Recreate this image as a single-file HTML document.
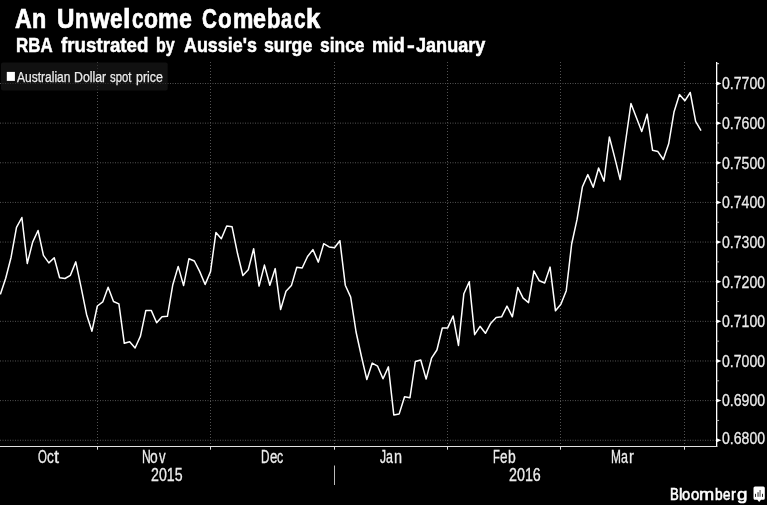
<!DOCTYPE html>
<html><head><meta charset="utf-8"><title>An Unwelcome Comeback</title>
<style>
html,body{margin:0;padding:0;background:#000;}
body{width:768px;height:505px;position:relative;overflow:hidden;font-family:"Liberation Sans",sans-serif;}
.t{position:absolute;white-space:nowrap;line-height:1;transform-origin:0 0;}
#L{position:absolute;left:0;top:0;width:768px;height:505px;will-change:transform;filter:blur(0.35px);}
</style></head><body>
<svg width="768" height="505" viewBox="0 0 768 505" style="position:absolute;left:0;top:0;filter:blur(0.3px)">
<line x1="0" y1="83.50" x2="716.65" y2="83.50" stroke="#525252" stroke-width="1" stroke-dasharray="1 1.5"/>
<line x1="0" y1="123.14" x2="716.65" y2="123.14" stroke="#525252" stroke-width="1" stroke-dasharray="1 1.5"/>
<line x1="0" y1="162.78" x2="716.65" y2="162.78" stroke="#525252" stroke-width="1" stroke-dasharray="1 1.5"/>
<line x1="0" y1="202.42" x2="716.65" y2="202.42" stroke="#525252" stroke-width="1" stroke-dasharray="1 1.5"/>
<line x1="0" y1="242.06" x2="716.65" y2="242.06" stroke="#525252" stroke-width="1" stroke-dasharray="1 1.5"/>
<line x1="0" y1="281.70" x2="716.65" y2="281.70" stroke="#525252" stroke-width="1" stroke-dasharray="1 1.5"/>
<line x1="0" y1="321.34" x2="716.65" y2="321.34" stroke="#525252" stroke-width="1" stroke-dasharray="1 1.5"/>
<line x1="0" y1="360.98" x2="716.65" y2="360.98" stroke="#525252" stroke-width="1" stroke-dasharray="1 1.5"/>
<line x1="0" y1="400.62" x2="716.65" y2="400.62" stroke="#525252" stroke-width="1" stroke-dasharray="1 1.5"/>
<line x1="0" y1="440.26" x2="716.65" y2="440.26" stroke="#525252" stroke-width="1" stroke-dasharray="1 1.5"/>
<line x1="97.5" y1="62.0" x2="97.5" y2="446.5" stroke="#525252" stroke-width="1" stroke-dasharray="1 2"/>
<line x1="210.5" y1="62.0" x2="210.5" y2="446.5" stroke="#525252" stroke-width="1" stroke-dasharray="1 2"/>
<line x1="334.5" y1="62.0" x2="334.5" y2="446.5" stroke="#525252" stroke-width="1" stroke-dasharray="1 2"/>
<line x1="447.5" y1="62.0" x2="447.5" y2="446.5" stroke="#525252" stroke-width="1" stroke-dasharray="1 2"/>
<line x1="560.5" y1="62.0" x2="560.5" y2="446.5" stroke="#525252" stroke-width="1" stroke-dasharray="1 2"/>
<line x1="684.5" y1="62.0" x2="684.5" y2="446.5" stroke="#525252" stroke-width="1" stroke-dasharray="1 2"/>
<rect x="1" y="62.5" width="166.7" height="28" rx="2" fill="#1d1d1d" fill-opacity="0.6"/>
<rect x="6.8" y="71.9" width="8.1" height="9" fill="#fff"/>
<line x1="716.65" y1="62.0" x2="716.65" y2="447.1" stroke="#fff" stroke-width="1.3"/>
<line x1="0" y1="446.5" x2="717.25" y2="446.5" stroke="#e0e0e0" stroke-width="1.2"/>
<path d="M716.65 81.60 L721.45 83.50 L716.65 85.40Z" fill="#fff"/>
<path d="M716.65 121.24 L721.45 123.14 L716.65 125.04Z" fill="#fff"/>
<path d="M716.65 160.88 L721.45 162.78 L716.65 164.68Z" fill="#fff"/>
<path d="M716.65 200.52 L721.45 202.42 L716.65 204.32Z" fill="#fff"/>
<path d="M716.65 240.16 L721.45 242.06 L716.65 243.96Z" fill="#fff"/>
<path d="M716.65 279.80 L721.45 281.70 L716.65 283.60Z" fill="#fff"/>
<path d="M716.65 319.44 L721.45 321.34 L716.65 323.24Z" fill="#fff"/>
<path d="M716.65 359.08 L721.45 360.98 L716.65 362.88Z" fill="#fff"/>
<path d="M716.65 398.72 L721.45 400.62 L716.65 402.52Z" fill="#fff"/>
<path d="M716.65 438.36 L721.45 440.26 L716.65 442.16Z" fill="#fff"/>
<line x1="716.65" y1="63.68" x2="719.05" y2="63.68" stroke="#ddd" stroke-width="1"/>
<line x1="716.65" y1="103.32" x2="719.05" y2="103.32" stroke="#b4b4b4" stroke-width="1"/>
<line x1="716.65" y1="142.96" x2="719.05" y2="142.96" stroke="#b4b4b4" stroke-width="1"/>
<line x1="716.65" y1="182.60" x2="719.05" y2="182.60" stroke="#b4b4b4" stroke-width="1"/>
<line x1="716.65" y1="222.24" x2="719.05" y2="222.24" stroke="#b4b4b4" stroke-width="1"/>
<line x1="716.65" y1="261.88" x2="719.05" y2="261.88" stroke="#b4b4b4" stroke-width="1"/>
<line x1="716.65" y1="301.52" x2="719.05" y2="301.52" stroke="#b4b4b4" stroke-width="1"/>
<line x1="716.65" y1="341.16" x2="719.05" y2="341.16" stroke="#b4b4b4" stroke-width="1"/>
<line x1="716.65" y1="380.80" x2="719.05" y2="380.80" stroke="#b4b4b4" stroke-width="1"/>
<line x1="716.65" y1="420.44" x2="719.05" y2="420.44" stroke="#b4b4b4" stroke-width="1"/>
<line x1="97.5" y1="446.5" x2="97.5" y2="449.70" stroke="#ddd" stroke-width="1"/>
<line x1="210.5" y1="446.5" x2="210.5" y2="449.70" stroke="#ddd" stroke-width="1"/>
<line x1="334.5" y1="446.5" x2="334.5" y2="449.70" stroke="#ddd" stroke-width="1"/>
<line x1="447.5" y1="446.5" x2="447.5" y2="449.70" stroke="#ddd" stroke-width="1"/>
<line x1="560.5" y1="446.5" x2="560.5" y2="449.70" stroke="#ddd" stroke-width="1"/>
<line x1="684.5" y1="446.5" x2="684.5" y2="449.70" stroke="#ddd" stroke-width="1"/>
<line x1="334.5" y1="465.5" x2="334.5" y2="485" stroke="#bbb" stroke-width="1"/>
<polyline points="0.32,294.40 5.71,278.20 11.10,257.20 16.49,227.30 21.88,217.50 27.27,263.50 32.66,242.10 38.05,230.50 43.44,255.40 48.83,262.90 54.22,257.80 59.61,277.70 65.00,278.50 70.39,275.30 75.78,261.90 81.17,287.60 86.56,314.40 91.95,331.20 97.34,306.00 102.73,301.90 108.12,287.20 113.51,301.50 118.90,303.90 124.29,343.30 129.68,341.80 135.07,348.00 140.46,336.10 145.85,310.40 151.24,310.40 156.63,322.70 162.02,316.70 167.41,316.30 172.80,284.70 178.19,266.40 183.58,285.60 188.97,258.70 194.36,261.00 199.75,271.60 205.14,284.50 210.53,271.60 215.92,232.50 221.31,238.70 226.70,226.00 232.09,226.80 237.48,253.30 242.87,275.50 248.26,269.80 253.65,248.70 259.04,286.10 264.43,265.10 269.82,285.20 275.21,268.60 280.60,309.60 285.99,291.30 291.38,285.60 296.77,267.20 302.16,268.00 307.55,256.50 312.94,249.60 318.33,262.10 323.72,243.70 329.11,246.90 334.50,247.80 339.89,240.70 345.28,285.20 350.67,297.10 356.06,332.00 361.45,356.50 366.84,379.60 372.23,363.10 377.62,366.20 383.01,378.80 388.40,366.90 393.79,414.90 399.18,413.90 404.57,396.70 409.96,397.70 415.35,361.50 420.74,360.00 426.13,379.10 431.52,358.20 436.91,350.00 442.30,328.00 447.69,327.90 453.08,316.00 458.47,345.40 463.86,293.70 469.25,281.80 474.64,334.70 480.03,326.30 485.42,333.30 490.81,323.20 496.20,317.40 501.59,316.80 506.98,306.10 512.37,316.80 517.76,287.40 523.15,298.10 528.54,302.60 533.93,271.00 539.32,280.80 544.71,283.00 550.10,267.10 555.49,310.80 560.88,304.20 566.27,290.70 571.66,244.00 577.05,219.40 582.44,186.70 587.83,174.60 593.22,187.20 598.61,168.00 604.00,181.20 609.39,136.90 614.78,157.90 620.17,179.60 625.56,141.50 630.95,103.60 636.34,117.60 641.73,131.50 647.12,114.10 652.51,150.20 657.90,151.60 663.29,159.50 668.68,143.80 674.07,111.70 679.46,94.60 684.85,100.80 690.24,92.50 695.63,121.30 701.02,130.60" fill="none" stroke="#fff" stroke-width="1.5" stroke-linejoin="round" stroke-linecap="butt"/>
<path d="M755 486.5 h8.3 a1.5 1.5 0 0 1 1.5 1.5 v10.2 a1.5 1.5 0 0 1 -1.5 1.5 h-2.3 l-1.85 2.4 l-1.85 -2.4 h-2.3 a1.5 1.5 0 0 1 -1.5 -1.5 v-10.2 a1.5 1.5 0 0 1 1.5 -1.5z" fill="#fff"/>
<rect x="755" y="493.8" width="0.9" height="3.1" fill="#111"/>
<rect x="757.1" y="492.2" width="1.9" height="4.6" fill="#8a8a8a"/>
<rect x="759.2" y="490" width="1.8" height="6.8" fill="#999"/>
<rect x="762.1" y="493.8" width="0.9" height="3.1" fill="#111"/>
</svg>
<div style="position:absolute;left:766.9px;top:0;width:1.1px;height:505px;background:#fff"></div>
<div id="L">
<div class="t" style="left:15.12px;top:4.62px;font-size:27.5px;font-weight:bold;color:#fff;-webkit-text-stroke:0.7px #fff;transform:scaleX(0.8418);">A</div>
<div class="t" style="left:32.38px;top:4.62px;font-size:27.5px;font-weight:bold;color:#fff;-webkit-text-stroke:0.7px #fff;transform:scaleX(0.8477);">n</div>
<div class="t" style="left:56.66px;top:4.62px;font-size:27.5px;font-weight:bold;color:#fff;-webkit-text-stroke:0.7px #fff;transform:scaleX(0.8779);">U</div>
<div class="t" style="left:75.24px;top:4.62px;font-size:27.5px;font-weight:bold;color:#fff;-webkit-text-stroke:0.7px #fff;transform:scaleX(0.8050);">n</div>
<div class="t" style="left:89.52px;top:4.62px;font-size:27.5px;font-weight:bold;color:#fff;-webkit-text-stroke:0.7px #fff;transform:scaleX(0.9165);">w</div>
<div class="t" style="left:109.98px;top:4.62px;font-size:27.5px;font-weight:bold;color:#fff;-webkit-text-stroke:0.7px #fff;transform:scaleX(0.8201);">e</div>
<div class="t" style="left:123.17px;top:4.62px;font-size:27.5px;font-weight:bold;color:#fff;-webkit-text-stroke:0.7px #fff;transform:scaleX(0.9745);">l</div>
<div class="t" style="left:131.84px;top:4.62px;font-size:27.5px;font-weight:bold;color:#fff;-webkit-text-stroke:0.7px #fff;transform:scaleX(0.7480);">c</div>
<div class="t" style="left:143.58px;top:4.62px;font-size:27.5px;font-weight:bold;color:#fff;-webkit-text-stroke:0.7px #fff;transform:scaleX(0.8314);">o</div>
<div class="t" style="left:157.99px;top:4.62px;font-size:27.5px;font-weight:bold;color:#fff;-webkit-text-stroke:0.7px #fff;transform:scaleX(0.8426);">m</div>
<div class="t" style="left:178.67px;top:4.62px;font-size:27.5px;font-weight:bold;color:#fff;-webkit-text-stroke:0.7px #fff;transform:scaleX(0.8417);">e</div>
<div class="t" style="left:202.44px;top:4.62px;font-size:27.5px;font-weight:bold;color:#fff;-webkit-text-stroke:0.7px #fff;transform:scaleX(0.7482);">C</div>
<div class="t" style="left:218.49px;top:4.62px;font-size:27.5px;font-weight:bold;color:#fff;-webkit-text-stroke:0.7px #fff;transform:scaleX(0.8118);">o</div>
<div class="t" style="left:232.60px;top:4.62px;font-size:27.5px;font-weight:bold;color:#fff;-webkit-text-stroke:0.7px #fff;transform:scaleX(0.8333);">m</div>
<div class="t" style="left:252.96px;top:4.62px;font-size:27.5px;font-weight:bold;color:#fff;-webkit-text-stroke:0.7px #fff;transform:scaleX(0.8489);">e</div>
<div class="t" style="left:266.75px;top:4.62px;font-size:27.5px;font-weight:bold;color:#fff;-webkit-text-stroke:0.7px #fff;transform:scaleX(0.8021);">b</div>
<div class="t" style="left:281.35px;top:4.62px;font-size:27.5px;font-weight:bold;color:#fff;-webkit-text-stroke:0.7px #fff;transform:scaleX(0.7332);">a</div>
<div class="t" style="left:294.43px;top:4.62px;font-size:27.5px;font-weight:bold;color:#fff;-webkit-text-stroke:0.7px #fff;transform:scaleX(0.7551);">c</div>
<div class="t" style="left:305.93px;top:4.62px;font-size:27.5px;font-weight:bold;color:#fff;-webkit-text-stroke:0.7px #fff;transform:scaleX(0.9332);">k</div>
<div class="t" style="left:15.81px;top:34.90px;font-size:20.2px;font-weight:bold;color:#fff;-webkit-text-stroke:0.5px #fff;transform:scaleX(0.8370);">RBA</div>
<div class="t" style="left:60.75px;top:34.90px;font-size:20.2px;font-weight:bold;color:#fff;-webkit-text-stroke:0.5px #fff;transform:scaleX(0.9279);">frustrated</div>
<div class="t" style="left:156.15px;top:34.90px;font-size:20.2px;font-weight:bold;color:#fff;-webkit-text-stroke:0.5px #fff;transform:scaleX(0.7958);">by</div>
<div class="t" style="left:183.97px;top:34.90px;font-size:20.2px;font-weight:bold;color:#fff;-webkit-text-stroke:0.5px #fff;transform:scaleX(0.8857);">Aussie's</div>
<div class="t" style="left:264.30px;top:34.90px;font-size:20.2px;font-weight:bold;color:#fff;-webkit-text-stroke:0.5px #fff;transform:scaleX(0.8791);">surge</div>
<div class="t" style="left:320.41px;top:34.90px;font-size:20.2px;font-weight:bold;color:#fff;-webkit-text-stroke:0.5px #fff;transform:scaleX(0.8620);">since</div>
<div class="t" style="left:372.33px;top:34.90px;font-size:20.2px;font-weight:bold;color:#fff;-webkit-text-stroke:0.5px #fff;transform:scaleX(0.9161);">mid</div>
<div class="t" style="left:406.56px;top:34.90px;font-size:20.2px;font-weight:bold;color:#fff;-webkit-text-stroke:0.5px #fff;transform:scaleX(1.1502);">-</div>
<div class="t" style="left:415.75px;top:34.90px;font-size:20.2px;font-weight:bold;color:#fff;-webkit-text-stroke:0.5px #fff;transform:scaleX(0.8948);">January</div>
<div class="t" style="left:16.95px;top:70.15px;font-size:14px;color:#ececec;-webkit-text-stroke:0.25px #ececec;transform:scaleX(0.8585);">Australian</div>
<div class="t" style="left:73.72px;top:70.15px;font-size:14px;color:#ececec;-webkit-text-stroke:0.25px #ececec;transform:scaleX(0.8799);">Dollar</div>
<div class="t" style="left:109.86px;top:70.15px;font-size:14px;color:#ececec;-webkit-text-stroke:0.25px #ececec;transform:scaleX(0.8069);">spot</div>
<div class="t" style="left:135.70px;top:70.15px;font-size:14px;color:#ececec;-webkit-text-stroke:0.25px #ececec;transform:scaleX(0.8890);">price</div>
<div class="t" style="left:722.16px;top:75.37px;font-size:17.4px;color:#ececec;-webkit-text-stroke:0.3px #ececec;transform:scaleX(0.8092);">0.7700</div>
<div class="t" style="left:722.16px;top:115.01px;font-size:17.4px;color:#ececec;-webkit-text-stroke:0.3px #ececec;transform:scaleX(0.8092);">0.7600</div>
<div class="t" style="left:722.16px;top:154.65px;font-size:17.4px;color:#ececec;-webkit-text-stroke:0.3px #ececec;transform:scaleX(0.8092);">0.7500</div>
<div class="t" style="left:722.16px;top:194.29px;font-size:17.4px;color:#ececec;-webkit-text-stroke:0.3px #ececec;transform:scaleX(0.8092);">0.7400</div>
<div class="t" style="left:722.16px;top:233.93px;font-size:17.4px;color:#ececec;-webkit-text-stroke:0.3px #ececec;transform:scaleX(0.8092);">0.7300</div>
<div class="t" style="left:722.16px;top:273.57px;font-size:17.4px;color:#ececec;-webkit-text-stroke:0.3px #ececec;transform:scaleX(0.8092);">0.7200</div>
<div class="t" style="left:722.16px;top:313.21px;font-size:17.4px;color:#ececec;-webkit-text-stroke:0.3px #ececec;transform:scaleX(0.8092);">0.7100</div>
<div class="t" style="left:722.16px;top:352.85px;font-size:17.4px;color:#ececec;-webkit-text-stroke:0.3px #ececec;transform:scaleX(0.8092);">0.7000</div>
<div class="t" style="left:722.16px;top:392.49px;font-size:17.4px;color:#ececec;-webkit-text-stroke:0.3px #ececec;transform:scaleX(0.8092);">0.6900</div>
<div class="t" style="left:722.16px;top:429.83px;font-size:17.4px;color:#ececec;-webkit-text-stroke:0.3px #ececec;transform:scaleX(0.8092);">0.6800</div>
<div class="t" style="left:38.18px;top:449.19px;font-size:17.5px;color:#ececec;-webkit-text-stroke:0.3px #ececec;transform:scaleX(0.6511);">O</div>
<div class="t" style="left:46.70px;top:449.19px;font-size:17.5px;color:#ececec;-webkit-text-stroke:0.3px #ececec;transform:scaleX(0.7796);">c</div>
<div class="t" style="left:53.73px;top:449.19px;font-size:17.5px;color:#ececec;-webkit-text-stroke:0.3px #ececec;transform:scaleX(1.0394);">t</div>
<div class="t" style="left:141.63px;top:449.19px;font-size:17.5px;color:#ececec;-webkit-text-stroke:0.3px #ececec;transform:scaleX(0.6931);">N</div>
<div class="t" style="left:150.47px;top:449.19px;font-size:17.5px;color:#ececec;-webkit-text-stroke:0.3px #ececec;transform:scaleX(0.7896);">o</div>
<div class="t" style="left:158.55px;top:449.19px;font-size:17.5px;color:#ececec;-webkit-text-stroke:0.3px #ececec;transform:scaleX(0.7549);">v</div>
<div class="t" style="left:260.77px;top:449.19px;font-size:17.5px;color:#ececec;-webkit-text-stroke:0.3px #ececec;transform:scaleX(0.6674);">D</div>
<div class="t" style="left:269.72px;top:449.19px;font-size:17.5px;color:#ececec;-webkit-text-stroke:0.3px #ececec;transform:scaleX(0.7585);">e</div>
<div class="t" style="left:277.25px;top:449.19px;font-size:17.5px;color:#ececec;-webkit-text-stroke:0.3px #ececec;transform:scaleX(0.7029);">c</div>
<div class="t" style="left:379.92px;top:449.19px;font-size:17.5px;color:#ececec;-webkit-text-stroke:0.3px #ececec;transform:scaleX(0.6957);">J</div>
<div class="t" style="left:386.34px;top:449.19px;font-size:17.5px;color:#ececec;-webkit-text-stroke:0.3px #ececec;transform:scaleX(0.7154);">a</div>
<div class="t" style="left:394.38px;top:449.19px;font-size:17.5px;color:#ececec;-webkit-text-stroke:0.3px #ececec;transform:scaleX(0.8271);">n</div>
<div class="t" style="left:492.60px;top:449.19px;font-size:17.5px;color:#ececec;-webkit-text-stroke:0.3px #ececec;transform:scaleX(0.6423);">F</div>
<div class="t" style="left:500.01px;top:449.19px;font-size:17.5px;color:#ececec;-webkit-text-stroke:0.3px #ececec;transform:scaleX(0.7704);">e</div>
<div class="t" style="left:507.71px;top:449.19px;font-size:17.5px;color:#ececec;-webkit-text-stroke:0.3px #ececec;transform:scaleX(0.7951);">b</div>
<div class="t" style="left:610.95px;top:449.19px;font-size:17.5px;color:#ececec;-webkit-text-stroke:0.3px #ececec;transform:scaleX(0.6819);">M</div>
<div class="t" style="left:620.74px;top:449.19px;font-size:17.5px;color:#ececec;-webkit-text-stroke:0.3px #ececec;transform:scaleX(0.7154);">a</div>
<div class="t" style="left:628.58px;top:449.19px;font-size:17.5px;color:#ececec;-webkit-text-stroke:0.3px #ececec;transform:scaleX(0.8342);">r</div>
<div class="t" style="left:150.91px;top:467.29px;font-size:17.5px;color:#ececec;-webkit-text-stroke:0.3px #ececec;transform:scaleX(0.8098);">2015</div>
<div class="t" style="left:508.91px;top:467.29px;font-size:17.5px;color:#ececec;-webkit-text-stroke:0.3px #ececec;transform:scaleX(0.8170);">2016</div>
<div class="t" style="left:669.69px;top:485.83px;font-size:16.5px;color:#fff;-webkit-text-stroke:0.6px #fff;transform:scaleX(0.7955);">B</div>
<div class="t" style="left:678.93px;top:485.83px;font-size:16.5px;color:#fff;-webkit-text-stroke:0.6px #fff;transform:scaleX(0.9353);">l</div>
<div class="t" style="left:682.28px;top:485.83px;font-size:16.5px;color:#fff;-webkit-text-stroke:0.6px #fff;transform:scaleX(0.8889);">o</div>
<div class="t" style="left:690.68px;top:485.83px;font-size:16.5px;color:#fff;-webkit-text-stroke:0.6px #fff;transform:scaleX(0.9007);">o</div>
<div class="t" style="left:699.45px;top:485.83px;font-size:16.5px;color:#fff;-webkit-text-stroke:0.6px #fff;transform:scaleX(1.1029);">m</div>
<div class="t" style="left:714.56px;top:485.83px;font-size:16.5px;color:#fff;-webkit-text-stroke:0.6px #fff;transform:scaleX(0.8349);">b</div>
<div class="t" style="left:722.64px;top:485.83px;font-size:16.5px;color:#fff;-webkit-text-stroke:0.6px #fff;transform:scaleX(0.8099);">e</div>
<div class="t" style="left:730.71px;top:485.83px;font-size:16.5px;color:#fff;-webkit-text-stroke:0.6px #fff;transform:scaleX(0.8889);">r</div>
<div class="t" style="left:736.69px;top:485.83px;font-size:16.5px;color:#fff;-webkit-text-stroke:0.6px #fff;transform:scaleX(1.1340);">g</div>
</div>
</body></html>
